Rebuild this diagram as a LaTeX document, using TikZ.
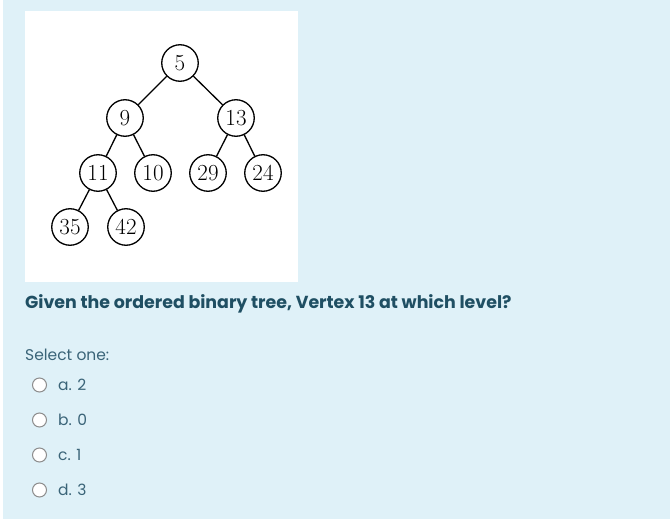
\documentclass[tikz,border=0pt]{standalone}
\usepackage{fontspec}
\newfontfamily\popp{Poppins}
\definecolor{bgblue}{HTML}{DFF1F8}
\definecolor{qcol}{HTML}{1F4F63}
\definecolor{ocol}{HTML}{3A6478}
\definecolor{radio}{HTML}{8C8C8C}
\begin{document}
\begin{tikzpicture}[x=1pt,y=-1pt,
  vtx/.style={circle,draw=black,line width=1.3pt,fill=white,minimum size=36.5pt,inner sep=0pt,font=\fontsize{23}{23}\selectfont},
  edge/.style={draw=black,line width=1.3pt},
  radiobtn/.style={circle,draw=radio,line width=1pt,fill=white,minimum size=14pt,inner sep=0pt},
  opt/.style={anchor=west,inner sep=0pt,text=ocol,font=\popp\fontsize{15.5}{15.5}\selectfont}]
\useasboundingbox (0,0) rectangle (670,519);
\fill[bgblue] (0,0) rectangle (670,519);
\fill[white] (0,0) rectangle (2.5,519);
\fill[white] (25,11) rectangle (298,282);
% tree
\node[vtx] (n5) at (180,63) {5};
\node[vtx] (n9) at (125,118) {9};
\node[vtx] (n13) at (236,118) {13};
\node[vtx] (n11) at (98,173) {11};
\node[vtx] (n10) at (153,173) {10};
\node[vtx] (n29) at (208,173) {29};
\node[vtx] (n24) at (263,173) {24};
\node[vtx] (n35) at (70,227) {35};
\node[vtx] (n42) at (126,227) {42};
\draw[edge] (n5) -- (n9);
\draw[edge] (n5) -- (n13);
\draw[edge] (n9) -- (n11);
\draw[edge] (n9) -- (n10);
\draw[edge] (n13) -- (n29);
\draw[edge] (n13) -- (n24);
\draw[edge] (n11) -- (n35);
\draw[edge] (n11) -- (n42);
% question
\node[anchor=west,inner sep=0pt,text=qcol,font=\popp\bfseries\fontsize{17.4}{17.4}\selectfont] (q) at (25,304) {Given the ordered binary tree, Vertex 13 at which level?};
\node[anchor=west,inner sep=0pt,text=ocol,font=\popp\fontsize{15.5}{15.5}\selectfont] (sel) at (25,355) {Select one:};
\node[radiobtn] (ra) at (39.5,385) {};
\node[radiobtn] (rb) at (39.5,420) {};
\node[radiobtn] (rc) at (39.5,455) {};
\node[radiobtn] (rd) at (39.5,490) {};
\node[opt] (ta) at (58,385) {a. 2};
\node[opt] (tb) at (58,420) {b. 0};
\node[opt] (tc) at (58,455) {c. 1};
\node[opt] (td) at (58,490) {d. 3};
\end{tikzpicture}
\end{document}
